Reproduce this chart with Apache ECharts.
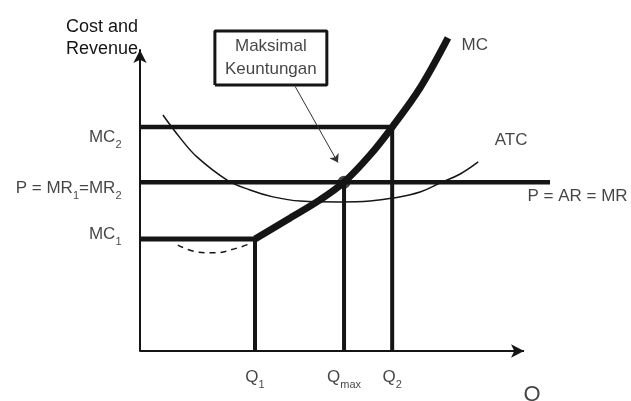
<!DOCTYPE html>
<html>
<head>
    <meta charset="utf-8">
    <script src="https://cdn.jsdelivr.net/npm/echarts@6/dist/echarts.min.js"></script>
    <style>
        html, body { margin: 0; padding: 0; background: #fff; }
        #chart { width: 631px; height: 401px; }
    </style>
</head>
<body>
<div id="chart"></div>
<script>
    // levels (x: quantity, y: cost / revenue)
    var qTicks = [30.1, 53.4, 66.0];                    // Q1, Qmax, Q2
    var qTickLabels = ['{b|Q}{s|1}', '{b|Q}{s|max}', '{b|Q}{s|2}'];
    var costTicks = [37.2, 56.1, 74.4];                 // MC1, P, MC2
    var costTickLabels = ['{b|MC}{s|1}', '{b|P = MR}{s|1}{b|=MR}{s|2}', '{b|MC}{s|2}'];
    var priceEnd = 107.3;
    var qAxisEnd = 100.5;

    var mcCurve = [[30.1, 37.2], [39.3, 44.2], [47.1, 50.2], [53.4, 56.1], [60.2, 65.1],
        [66.0, 74.4], [73.3, 87.4], [80.6, 104.0]];
    var mcDashed = [[9.9, 35.2], [14.9, 32.9], [19.6, 32.6], [25.4, 34.2], [29.3, 35.9]];
    var atcCurve = [[6.0, 78.4], [10.5, 70.8], [14.9, 64.5], [22.8, 56.8], [28.8, 53.5],
        [34.8, 51.2], [41.9, 49.8], [52.4, 49.5], [60.2, 49.8], [66.2, 50.8], [73.3, 52.8],
        [78.5, 55.8], [83.8, 58.8], [88.5, 62.8]];
    var curveNames = ['MC', 'ATC', 'P = AR = MR'];

    // note box "Maksimal Keuntungan": x from..to, y from..to, arrow start and tip
    var noteBox = [19.6, 48.9, 88.4, 106.3];
    var noteArrow = [[40.6, 87.9], [51.8, 62.6]];
    var noteText = 'Maksimal\nKeuntungan';

    var FONT = 'Liberation Sans';
    var INK = '#151515';
    var NONE = 'rgba(0,0,0,0)';

    var chart = echarts.init(document.getElementById('chart'));

    var Q1 = qTicks[0], Qmax = qTicks[1], Q2 = qTicks[2];
    var MC1 = costTicks[0], P = costTicks[1], MC2 = costTicks[2];

    var rich = {
        b: { fontFamily: FONT, fontSize: 17, color: INK, lineHeight: 17, padding: [0, 0, 5, 0], verticalAlign: 'bottom' },
        s: { fontFamily: FONT, fontSize: 11, color: INK, lineHeight: 11, verticalAlign: 'bottom' }
    };
    var plain = { fontFamily: FONT, fontSize: 17, color: INK };

    function seg(data, width, extra) {
        var s = {
            type: 'line',
            data: data,
            symbol: 'none',
            clip: false,
            silent: true,
            lineStyle: { color: INK, width: width },
            z: 3
        };
        for (var k in extra) s[k] = extra[k];
        return s;
    }

    function textAt(pt, label) {
        label.show = true;
        return { value: pt, label: label };
    }

    // label points: y tick labels sit left of the axis, q labels below it
    var yShift = [0, 11, 15];
    var labelData = [];
    costTicks.forEach(function (v, i) {
        labelData.push(textAt([0, v], { position: 'left', distance: 18, offset: [0, yShift[i]], formatter: costTickLabels[i], rich: rich }));
    });
    qTicks.forEach(function (v, i) {
        labelData.push(textAt([v, 0], { position: 'bottom', distance: 22, formatter: qTickLabels[i], rich: rich }));
    });
    // curve names next to the curve ends
    var mcEnd = mcCurve[mcCurve.length - 1], atcEnd = atcCurve[atcCurve.length - 1];
    labelData.push(textAt(mcEnd, Object.assign({ position: 'right', distance: 13, offset: [0, 7], formatter: curveNames[0] }, plain)));
    labelData.push(textAt(atcEnd, Object.assign({ position: 'right', distance: 16, offset: [0, -22], formatter: curveNames[1] }, plain)));
    labelData.push(textAt([priceEnd, P], Object.assign({ position: 'right', distance: 0, offset: [-23, 14], formatter: curveNames[2] }, plain)));
    labelData.push(textAt([(noteBox[0] + noteBox[1]) / 2, (noteBox[2] + noteBox[3]) / 2],
        Object.assign({ position: 'inside', formatter: noteText, lineHeight: 23, align: 'center' }, plain)));
    // axis title under the arrow of the quantity axis
    labelData.push(textAt([qAxisEnd, 0], { position: 'bottom', distance: 32, offset: [8, 0], formatter: 'Q', fontFamily: FONT, fontSize: 22, color: INK }));

    var option = {
        backgroundColor: '#ffffff',
        animation: false,
        grid: { left: 140, right: 81, top: 50, bottom: 50 },
        xAxis: {
            type: 'value', min: 0, max: priceEnd,
            axisLine: { show: false },
            axisTick: { show: false }, axisLabel: { show: false }, splitLine: { show: false }
        },
        yAxis: {
            type: 'value', min: 0, max: 100,
            name: 'Cost and\nRevenue', nameLocation: 'end', nameGap: 0,
            nameTextStyle: { fontFamily: FONT, fontSize: 18, color: INK, align: 'right', verticalAlign: 'bottom', lineHeight: 22, padding: [0, 2, -10, 0] },
            axisLine: { show: true, symbol: ['none', 'arrow'], symbolSize: [10, 13], lineStyle: { color: INK, width: 2 } },
            axisTick: { show: false }, axisLabel: { show: false }, splitLine: { show: false }
        },
        series: [
            // quantity axis with its arrow, ends short of the price line
            seg([[0, 0], [qAxisEnd - 2, 0]], 2, {
                markLine: {
                    silent: true, symbol: ['none', 'arrow'], symbolSize: [10, 13],
                    lineStyle: { color: INK, width: 2, type: 'solid' }, label: { show: false },
                    data: [[{ coord: [0, 0] }, { coord: [qAxisEnd, 0] }]]
                }
            }),
            seg([[0, MC1], [Q1, MC1]], 5),
            seg([[Q1, 0], [Q1, MC1]], 4),
            seg([[0, MC2], [Q2, MC2]], 4.5),
            seg([[Q2, 0], [Q2, MC2]], 4),
            seg([[Qmax, 0], [Qmax, P]], 4),
            seg([[0, P], [priceEnd, P]], 4.5),
            seg(atcCurve, 1.5, { smooth: 0.4 }),
            seg(mcDashed, 1.5, { smooth: 0.4, lineStyle: { color: INK, width: 1.5, type: [6, 5] } }),
            seg(mcCurve, 7, { smooth: 0.35, z: 4 }),
            {
                type: 'scatter', data: [[Qmax, P]], symbolSize: 13, silent: true, z: 5,
                itemStyle: { color: INK }
            },
            seg([[noteBox[0], noteBox[2]], [noteBox[1], noteBox[2]], [noteBox[1], noteBox[3]],
                [noteBox[0], noteBox[3]], [noteBox[0], noteBox[2]]], 3, {
                markLine: {
                    silent: true, symbol: ['none', 'arrow'], symbolSize: 8,
                    lineStyle: { color: '#333', width: 1, type: 'solid' }, label: { show: false },
                    data: [[{ coord: noteArrow[0] }, { coord: noteArrow[1] }]]
                }
            }),
            {
                type: 'scatter', silent: true, symbolSize: 1, clip: false, z: 6,
                itemStyle: { color: NONE },
                data: labelData
            }
        ]
    };

    chart.setOption(option);
</script>
</body>
</html>
